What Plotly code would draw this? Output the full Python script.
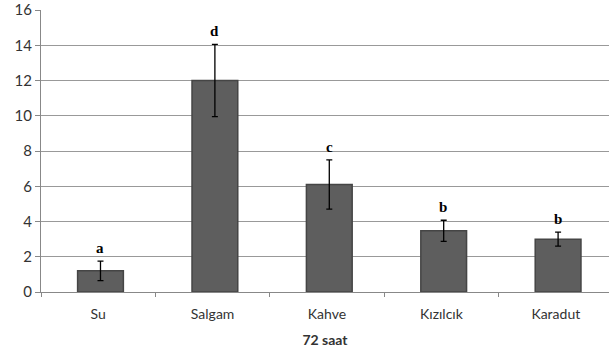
import plotly.graph_objects as go

categories = ["Su", "Salgam", "Kahve", "Kızılcık", "Karadut"]
values = [1.2, 12.0, 6.1, 3.47, 3.0]
errors = [0.55, 2.05, 1.4, 0.6, 0.4]
letters = ["a", "d", "c", "b", "b"]
y_ticks = [0, 2, 4, 6, 8, 10, 12, 14, 16]
x_title = "72 saat"

fig = go.Figure()
fig.add_trace(go.Bar(
    x=categories, y=values, width=0.40, offset=-0.18,
    marker=dict(color="#5e5e5e", line=dict(color="#454545", width=1.5)),
    error_y=dict(type="data", array=errors, visible=True, color="black",
                 thickness=1.3, width=3),
))

for c, v, e, l in zip(categories, values, errors, letters):
    fig.add_annotation(x=c, y=v + e, text="<b>" + l + "</b>", showarrow=False,
                       yanchor="bottom", yshift=3, xshift=2,
                       font=dict(family="Liberation Serif", size=15, color="black"))

fig.update_layout(
    width=609, height=354,
    margin=dict(l=41, r=0, t=10, b=62, autoexpand=False),
    paper_bgcolor="white", plot_bgcolor="white",
    showlegend=False,
    font=dict(family="Lato, Open Sans, sans-serif", size=13, color="#333"),
    bargap=0.6,
)
fig.update_xaxes(
    range=[-0.5, 4.465], showline=True, linecolor="#888", linewidth=1,
    ticks="outside", tickson="boundaries", ticklen=4, tickcolor="#888",
    showgrid=False, tickfont=dict(size=14, color="#333"), automargin=False,
    ticklabelstandoff=9,
    title=dict(text="<b>" + x_title + "</b>", font=dict(size=14, color="#333"), standoff=14),
)
fig.update_yaxes(
    range=[0, 16], tickvals=y_ticks, showline=True, linecolor="#888", linewidth=1,
    ticks="outside", ticklen=5, tickcolor="#888", automargin=False,
    showgrid=True, gridcolor="#999", gridwidth=1, zeroline=False,
    tickfont=dict(size=15, color="#333"),
)

fig.write_html("out.html", config={"displayModeBar": False},
               post_script="document.body.style.margin='0';document.body.style.overflow='hidden';")
